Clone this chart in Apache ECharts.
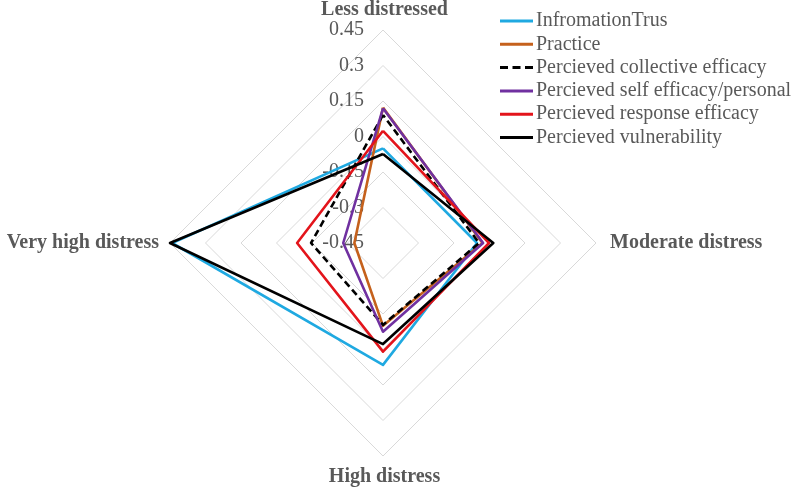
<!DOCTYPE html>
<html>
<head>
<meta charset="utf-8">
<script src="https://cdn.jsdelivr.net/npm/echarts@6/dist/echarts.min.js"></script>
<style>
  html, body { margin: 0; padding: 0; background: #fff; }
  #radardiv { width: 797px; height: 490px; }
</style>
</head>
<body>
<div id="radardiv"></div>
<script>
// axes, in drawing order (top, then counter-clockwise)
var indicatorNames = ['Less distressed', 'Very high distress', 'High distress', 'Moderate distress'];
var axisMin = -0.45;
var axisMax = 0.45;

// series values, same order as indicatorNames
var infoTrust     = [-0.05, 0.441, 0.065, -0.053];
var practice      = [0.122, -0.329, -0.10, -0.03];
var collective    = [0.091, -0.146, -0.104, -0.044];
var selfEfficacy  = [0.119, -0.282, -0.075, -0.027];
var response      = [0.024, -0.087, 0.009, -0.002];
var vulnerability = [-0.074, 0.45, -0.023, 0.016];

var seriesNames = ['InfromationTrus', 'Practice', 'Percieved collective efficacy',
    'Percieved self efficacy/personal', 'Percieved response efficacy', 'Percieved vulnerability'];
var seriesValues = [infoTrust, practice, collective, selfEfficacy, response, vulnerability];
var seriesColors = ['#1fa9e1', '#c5611c', '#000000', '#7030a0', '#e3141b', '#000000'];
var seriesDashed = [false, false, true, false, false, false];

var serif = '"Liberation Serif", "Times New Roman", serif';
var gray = '#595959';

var radarChar = echarts.init(document.getElementById('radardiv'));

var solidIcon = 'path://M0,0H33V3H0Z';
var dashIcon = 'path://M0,0H8V3H0ZM12.5,0H20.5V3H12.5ZM25,0H33V3H25Z';

var indicators = indicatorNames.map(function (n, i) {
    var ind = { name: n, min: axisMin, max: axisMax };
    if (i === 0) {
        ind.axisLabel = { show: true };
    }
    return ind;
});

var series = seriesNames.map(function (n, i) {
    return {
        type: 'radar',
        name: n,
        symbol: 'none',
        silent: true,
        itemStyle: { color: seriesColors[i] },
        lineStyle: {
            color: seriesColors[i],
            width: 2.6,
            type: seriesDashed[i] ? [7, 4] : 'solid'
        },
        data: [{ name: n, value: seriesValues[i] }]
    };
});

var option = {
    animation: false,
    legend: {
        orient: 'vertical',
        left: 495,
        top: 6,
        itemWidth: 33,
        itemHeight: 3,
        itemGap: 3.3,
        textStyle: { fontFamily: serif, fontSize: 20, color: gray, padding: [0, 0, 0, -2] },
        data: seriesNames.map(function (n, i) {
            return {
                name: n,
                icon: seriesDashed[i] ? dashIcon : solidIcon,
                itemStyle: { color: seriesColors[i], borderWidth: 0 }
            };
        })
    },
    radar: {
        center: [383, 243],
        radius: 213,
        shape: 'polygon',
        splitNumber: 6,
        nameGap: 11,
        axisName: {
            color: gray,
            fontFamily: serif,
            fontWeight: 'bold',
            fontSize: 20,
            padding: [0, 0, -4, 3]
        },
        axisLine: { show: false },
        axisTick: { show: false },
        splitArea: { show: false },
        splitLine: { lineStyle: { color: '#d9d9d9', width: 1 } },
        axisLabel: {
            show: false,
            color: gray,
            fontFamily: serif,
            fontSize: 20,
            margin: 19,
            formatter: function (v) { return String(+(+v).toFixed(2)); }
        },
        indicator: indicators
    },
    series: series
};

radarChar.setOption(option);
</script>
</body>
</html>
